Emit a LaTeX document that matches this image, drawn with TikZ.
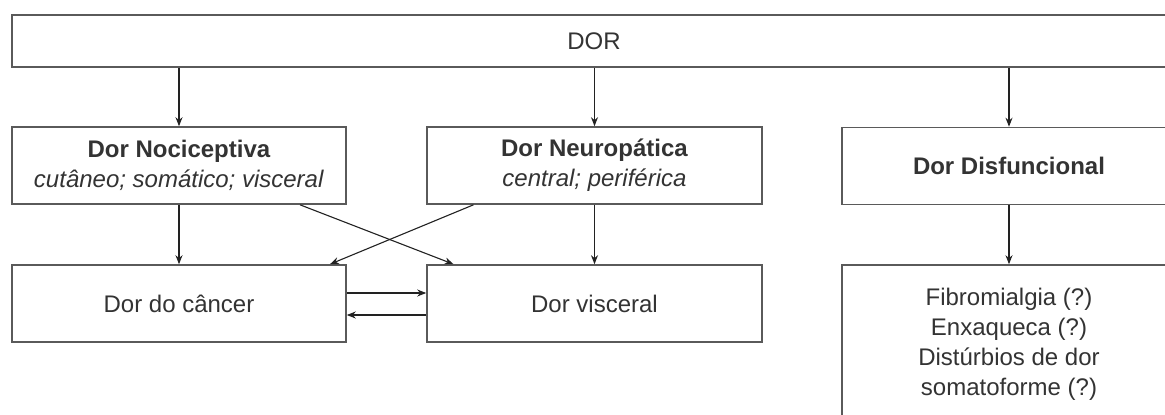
\documentclass[tikz,border=0pt]{standalone}
\usepackage{fontspec}
\setmainfont{Liberation Sans}
\usetikzlibrary{arrows.meta,calc}
\definecolor{boxline}{HTML}{5A5A5A}
\definecolor{txt}{HTML}{333333}
\definecolor{arr}{HTML}{222222}
\begin{document}
\begin{tikzpicture}[x=1pt,y=-1pt,
  box/.style={draw=boxline,line width=1.6pt,fill=white,inner sep=0pt,
    align=center,text=txt,font=\fontsize{24}{30}\selectfont},
  link/.style={draw=arr,line width=1.1pt,-{Stealth[length=9pt,width=7pt]}}]
\clip (0,0) rectangle (1165,415);
\fill[white] (0,0) rectangle (1165,415);

% top level
\node[box,minimum width=1164pt,minimum height=52pt] (dor) at (594,41) {DOR};

% pain classes
\node[box,minimum width=334pt,minimum height=77pt] (noc) at (179,165.5)
  {\textbf{Dor Nociceptiva}\\\textit{cutâneo; somático; visceral}};
\node[box,minimum width=335pt,minimum height=77pt] (neu) at (594.5,165.5)
  {\textbf{Dor Neuropática}\\\textit{central; periférica}};
\node[box,minimum width=334pt,minimum height=77pt] (dis) at (1009,166)
  {\textbf{Dor Disfuncional}};

% clinical pictures
\node[box,minimum width=334pt,minimum height=77pt] (can) at (179,303.5) {Dor do câncer};
\node[box,minimum width=335pt,minimum height=77pt] (vis) at (594.5,303.5) {Dor visceral};
\node[box,minimum width=334pt,minimum height=158pt] (fib) at (1009,344)
  {Fibromialgia (?)\\Enxaqueca (?)\\Distúrbios de dor\\somatoforme (?)};

% arrows from the top box
\draw[link] (dor.south -| noc.north) -- (noc.north);
\draw[link] (dor.south -| neu.north) -- (neu.north);
\draw[link] (dor.south -| dis.north) -- (dis.north);

% straight descents
\draw[link] (noc.south) -- (can.north);
\draw[link] (neu.south) -- (vis.north);
\draw[link] (dis.south) -- (fib.north);

% crossing links
\draw[link] ([xshift=121pt]noc.south) -- ([xshift=-141pt]vis.north);
\draw[link] ([xshift=-121pt]neu.south) -- ([xshift=151pt]can.north);

% two-way link between cancer and visceral pain
\draw[link] ([yshift=10.5pt]can.east) -- ([yshift=10.5pt]can.east -| vis.west);
\draw[link] ([yshift=-11.5pt]vis.west) -- ([yshift=-11.5pt]vis.west -| can.east);
\end{tikzpicture}
\end{document}
